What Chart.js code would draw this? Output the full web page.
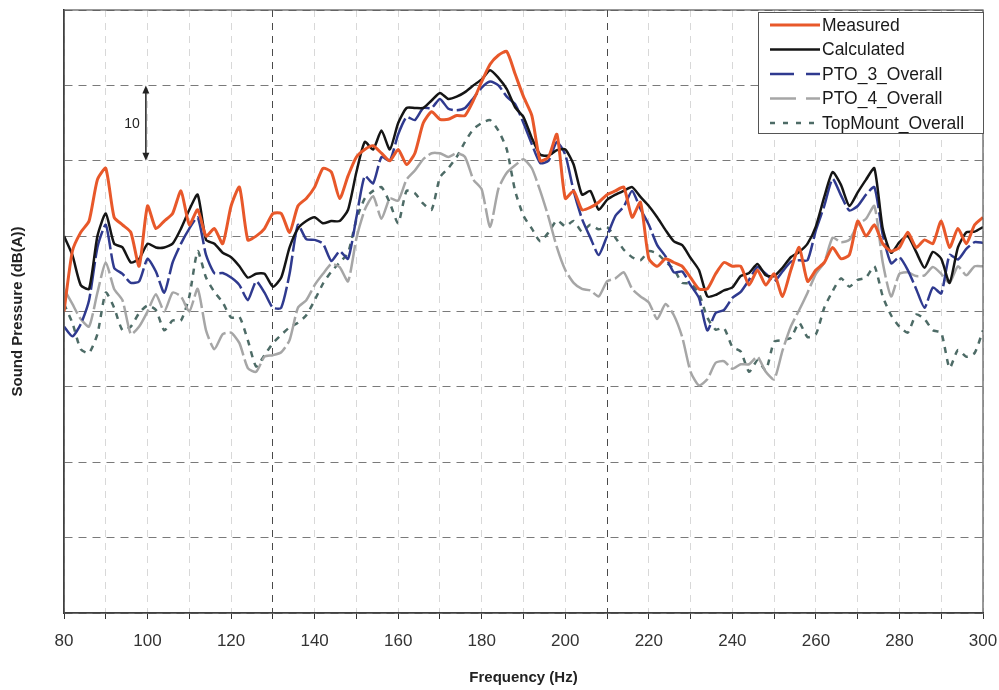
<!DOCTYPE html>
<html>
<head>
<meta charset="utf-8">
<script src="https://cdn.jsdelivr.net/npm/chart.js@4.4.1/dist/chart.umd.min.js"></script>
<style>
  html, body { margin: 0; padding: 0; background: #fff; }
  #wrap { width: 999px; height: 690px; }
</style>
</head>
<body>
<div id="wrap"><canvas id="splChart" width="999" height="690"></canvas></div>
<script>
// frequency bins (Hz), 2 Hz apart
const freqHz = [
  80, 82, 84, 86, 88, 90, 92, 94, 96, 98,
  100, 102, 104, 106, 108, 110, 112, 114, 116, 118,
  120, 122, 124, 126, 128, 130, 132, 134, 136, 138,
  140, 142, 144, 146, 148, 150, 152, 154, 156, 158,
  160, 162, 164, 166, 168, 170, 172, 174, 176, 178,
  180, 182, 184, 186, 188, 190, 192, 194, 196, 198,
  200, 202, 204, 206, 208, 210, 212, 214, 216, 218,
  220, 222, 224, 226, 228, 230, 232, 234, 236, 238,
  240, 242, 244, 246, 248, 250, 252, 254, 256, 258,
  260, 262, 264, 266, 268, 270, 272, 274, 276, 278,
  280, 282, 284, 286, 288, 290, 292, 294, 296, 298,
  300
];

// sound pressure, dB(A) (axis has no absolute labels)
const measured = [
  60, 68, 70.5, 72, 77.5, 79, 72.5, 71.5, 70.5, 66,
  74, 71, 72, 73, 76, 71.5, 73.5, 70, 71, 69,
  74, 76.5, 69.5, 70, 71, 73, 73, 70.5, 74, 75,
  76.5, 79, 78.5, 75, 78, 80.5, 81.5, 82, 81, 80,
  81.5, 79.5, 81, 85, 86.5, 85.5, 85.5, 86, 86, 88,
  90.5, 92.8, 94, 94.5, 91.5, 88.5, 86, 80, 80.5, 83.5,
  75, 76, 73.5, 73.8, 74.5, 75.5, 76, 76.5, 72.5, 74.5,
  67, 66, 67, 66.5, 66, 64.5, 63, 63, 65, 66.5,
  66, 66, 63.5, 65.5, 63.5, 65, 62, 65.5, 68.5, 64,
  65.5, 66.5, 68.5, 67, 67.5, 72, 70, 71.5, 69, 68,
  68.5, 70.5, 68.5, 69.5, 69, 72, 68.5, 71, 69, 71.5,
  72.5
];

const calculated = [
  70, 67.5, 63.5, 63, 70, 73, 69, 68.5, 66.5, 67,
  69, 68.5, 68.5, 69, 71, 73.5, 75.5, 69.5, 69, 67.8,
  67.2, 66, 64.5, 65, 65, 63.3, 64.5, 68.5, 71, 72,
  72.5, 71.7, 72, 72, 73.5, 78.5, 82.5, 81.5, 84, 81.5,
  85, 87, 87, 87, 88, 89, 88.2, 88.5, 89.1, 90,
  90.8, 92, 91, 89.5, 87.1, 85.8, 83, 80.8, 80.7, 81.4,
  81.5, 79.5, 75.5, 76, 73.5, 74.8, 75.5, 76, 76.5, 75.2,
  74, 72.5, 70.8, 69.3, 68.8, 67.1, 65.5, 62, 62.2, 62.8,
  63.2, 64.7, 65.1, 66.3, 64.8, 64.7, 65.8, 67.2, 67.9, 69,
  71.3, 75.2, 78.5, 76.8, 74, 75.8, 77.5, 79, 71, 67.8,
  69.2, 70, 67.9, 65.8, 67.9, 67, 63.8, 68.5, 70.5, 70.6,
  71.2
];

const pto3Overall = [
  58, 56.7, 58.3, 61.5, 68.5, 71.5, 65.8, 65, 63.8, 64,
  67, 65.3, 62.5, 66.5, 69, 71, 72.5, 67.5, 65.1, 65.1,
  64.5, 63.5, 61.5, 64, 62.5, 60.5, 60.5, 65, 71.5, 69.6,
  69.5, 69, 66.7, 68, 67, 72.5, 78, 77, 80.5, 80,
  83.5, 85.8, 85.4, 87, 87, 88.2, 86.9, 86.7, 87, 88.3,
  89.7, 90.5, 90, 88.5, 87.5, 85, 82.2, 79.7, 80, 82.5,
  80.8, 76, 72.3, 69.8, 67.5, 70, 72.7, 73.9, 76, 73.6,
  71.5, 68.8, 67.3, 65.2, 65.3, 63.5, 61.8, 57.5, 59.8, 60.2,
  61.8, 62.6, 64.2, 65.9, 65, 64, 65.3, 66.6, 66.8, 66.8,
  70.8, 74, 77.6, 75.4, 73.4, 74, 75.5, 76.5, 70.2, 66.4,
  67.2, 65.5, 63, 60.5, 63.2, 62.4, 67.5, 66.9, 68.3, 69.2,
  69.1
];

const pto4Overall = [
  63, 61, 59, 58, 62.5, 66.5, 63, 61.5, 57, 58,
  60, 62.3, 60, 62.5, 62, 60, 63, 57.5, 55, 57,
  57.2, 55.8, 52.5, 52, 54, 54.2, 54.6, 56.2, 60.5, 61.5,
  63.5, 65, 66.3, 65.9, 64, 69.7, 73.5, 75.3, 72.3, 75,
  74.7, 77.5, 78.7, 80.2, 81, 81, 80.5, 81, 80.5, 77.5,
  76.2, 71.2, 76.3, 78.4, 79.4, 80.2, 79, 76, 72.5, 68.5,
  65.5, 63.8, 63, 62.8, 62, 64, 64.4, 65.2, 63, 62,
  61.2, 59, 61, 59.5, 56.6, 52, 50.2, 51, 53.2, 53.4,
  52.4, 53, 53, 54, 52, 51, 54.8, 58, 60.2, 62.5,
  65, 66.5, 69.8, 69.2, 69.5, 71.5, 72.3, 74, 66.5, 62,
  65, 65.2, 64.7, 64.8, 65.9, 65, 63.8, 66, 64.8, 66,
  66
];

const topMountOverall = [
  61, 58.5, 55, 54.5, 57, 62.5, 60.5, 57.5, 58, 59.8,
  60.8, 60.2, 57.5, 58.8, 58.8, 62, 68, 64.5, 62.6, 61.2,
  59.2, 59.3, 56.2, 52.7, 54.2, 55.8, 56.9, 57.9, 58.5, 59.5,
  61.5, 63.7, 65.3, 66.5, 67.8, 72.2, 75, 76, 76.5, 74.4,
  71.7, 76, 75.7, 74.3, 73.5, 77.8, 79, 80.5, 82.5, 84.2,
  85, 85.4, 84, 81.5, 76, 72.7, 71, 69.3, 70.5, 72.1,
  71.3, 72, 70.6, 71.5, 70.9, 71.2, 69.8, 68.2, 67.2, 66.8,
  68, 67.7, 66.6, 65.6, 63.8, 63.7, 62.4, 59.2, 57.6, 57.8,
  55.3, 54.7, 52, 53.5, 52.2, 56, 56.2, 56.5, 58.5, 56.6,
  57, 60.5, 62.7, 64.4, 63.3, 64.2, 64.5, 66, 62, 59.5,
  58, 57.2, 59.6, 59, 57.5, 57.2, 52.5, 54.9, 54, 54.5,
  57.5
];

// the two darker vertical reference lines
const darkGridHz = [130, 210];

// "10 dB" scale bar drawn in the top-left corner
const scaleBarHz = 99.6;
const scaleBarDb = [80, 90];
const scaleBarLabel = "10";

Chart.defaults.font.family = '"Liberation Sans", Arial, sans-serif';

function toPoints(values) {
  return freqHz.map((f, i) => ({ x: f, y: values[i] }));
}

const whiteBg = {
  id: "whiteBg",
  beforeDraw(chart) {
    const ctx = chart.ctx;
    ctx.save();
    ctx.fillStyle = "#fff";
    ctx.fillRect(0, 0, chart.width, chart.height);
    ctx.restore();
  },
};

const plotFrame = {
  id: "plotFrame",
  afterDraw(chart) {
    const { ctx, chartArea } = chart;
    ctx.save();
    ctx.strokeStyle = "#555";
    ctx.lineWidth = 1.2;
    ctx.strokeRect(chartArea.left, chartArea.top, chartArea.right - chartArea.left, chartArea.bottom - chartArea.top);
    ctx.restore();
  },
};

const scaleBar = {
  id: "scaleBar",
  afterDatasetsDraw(chart) {
    const { ctx, scales } = chart;
    const px = scales.x.getPixelForValue(scaleBarHz);
    const yLow = scales.y.getPixelForValue(scaleBarDb[0]);
    const yHigh = scales.y.getPixelForValue(scaleBarDb[1]);
    ctx.save();
    ctx.strokeStyle = "#222";
    ctx.fillStyle = "#222";
    ctx.lineWidth = 1.5;
    ctx.beginPath();
    ctx.moveTo(px, yHigh + 5);
    ctx.lineTo(px, yLow - 5);
    ctx.stroke();
    // arrow heads
    ctx.beginPath();
    ctx.moveTo(px, yHigh);
    ctx.lineTo(px - 3.5, yHigh + 8);
    ctx.lineTo(px + 3.5, yHigh + 8);
    ctx.closePath();
    ctx.fill();
    ctx.beginPath();
    ctx.moveTo(px, yLow);
    ctx.lineTo(px - 3.5, yLow - 8);
    ctx.lineTo(px + 3.5, yLow - 8);
    ctx.closePath();
    ctx.fill();
    ctx.font = '14px "Liberation Sans", Arial, sans-serif';
    ctx.textAlign = "right";
    ctx.textBaseline = "middle";
    ctx.fillText(scaleBarLabel, px - 6, (yLow + yHigh) / 2 + 1);
    ctx.restore();
  },
};

const boxLegend = {
  id: "boxLegend",
  afterDraw(chart) {
    const { ctx, chartArea } = chart;
    const w = 225;
    const h = 121;
    const left = chartArea.right - w;
    const top = chartArea.top + 2;
    ctx.save();
    ctx.fillStyle = "#fff";
    ctx.fillRect(left, top, w, h);
    ctx.strokeStyle = "#555";
    ctx.lineWidth = 1;
    ctx.strokeRect(left + 0.5, top + 0.5, w, h);
    ctx.font = '17.5px "Liberation Sans", Arial, sans-serif';
    ctx.textBaseline = "middle";
    chart.data.datasets.forEach((ds, i) => {
      const y = top + 13 + i * 24.5;
      ctx.save();
      ctx.strokeStyle = ds.borderColor;
      ctx.lineWidth = ds.borderWidth;
      ctx.setLineDash(ds.legendDash || ds.borderDash || []);
      ctx.beginPath();
      ctx.moveTo(left + 12, y);
      ctx.lineTo(left + 62, y);
      ctx.stroke();
      ctx.restore();
      ctx.fillStyle = "#1a1a1a";
      ctx.fillText(ds.label, left + 64, y + 1);
    });
    ctx.restore();
  },
};

new Chart(document.getElementById("splChart"), {
  type: "line",
  data: {
    datasets: [
      { label: "Measured", data: toPoints(measured), borderColor: "#e8582a", borderWidth: 3 },
      { label: "Calculated", data: toPoints(calculated), borderColor: "#151515", borderWidth: 2.5 },
      { label: "PTO_3_Overall", data: toPoints(pto3Overall), borderColor: "#2f3a8f", borderWidth: 2.5, borderDash: [28, 4], legendDash: [24, 12] },
      { label: "PTO_4_Overall", data: toPoints(pto4Overall), borderColor: "#a6a6a6", borderWidth: 2.5, borderDash: [28, 4], legendDash: [26, 10] },
      { label: "TopMount_Overall", data: toPoints(topMountOverall), borderColor: "#4d6b66", borderWidth: 2.5, borderDash: [6, 6], legendDash: [5, 8] },
    ],
  },
  options: {
    responsive: false,
    animation: false,
    elements: {
      point: { radius: 0 },
      line: { tension: 0.2 },
    },
    layout: { padding: { top: 10, right: 16, left: 0, bottom: 0 } },
    plugins: {
      legend: { display: false },
      tooltip: { enabled: false },
    },
    scales: {
      x: {
        type: "linear",
        min: 80,
        max: 300,
        afterFit: (scale) => {
          scale.height = 77;
          scale.paddingLeft = 0;
          scale.paddingRight = 0;
        },
        ticks: {
          stepSize: 10,
          autoSkip: false,
          maxRotation: 0,
          padding: 12,
          color: "#333",
          font: { size: 17 },
          callback: (v) => (v % 20 === 0 ? v : ""),
        },
        grid: {
          color: (ctx) => (ctx.tick && darkGridHz.includes(ctx.tick.value) ? "#4a4a4a" : "#d8d8d8"),
          lineWidth: 1,
          tickLength: 6,
          tickColor: "#333",
          tickBorderDash: [],
        },
        border: { color: "#222", width: 1.5, dash: [7, 6] },
        title: {
          display: true,
          text: "Frequency (Hz)",
          color: "#222",
          font: { size: 15, weight: "bold" },
          padding: { top: 0, bottom: 3 },
        },
      },
      y: {
        min: 20,
        max: 100,
        afterFit: (scale) => { scale.width = 64; },
        ticks: { stepSize: 10, display: false },
        grid: { color: "#7a7a7a", lineWidth: 1, drawTicks: false },
        border: { color: "#222", width: 1.5, dash: [8, 6] },
        title: {
          display: true,
          text: "Sound Pressure (dB(A))",
          color: "#222",
          font: { size: 15, weight: "bold" },
          padding: { top: 9, bottom: 0 },
        },
      },
    },
  },
  plugins: [whiteBg, scaleBar, plotFrame, boxLegend],
});
</script>
</body>
</html>
